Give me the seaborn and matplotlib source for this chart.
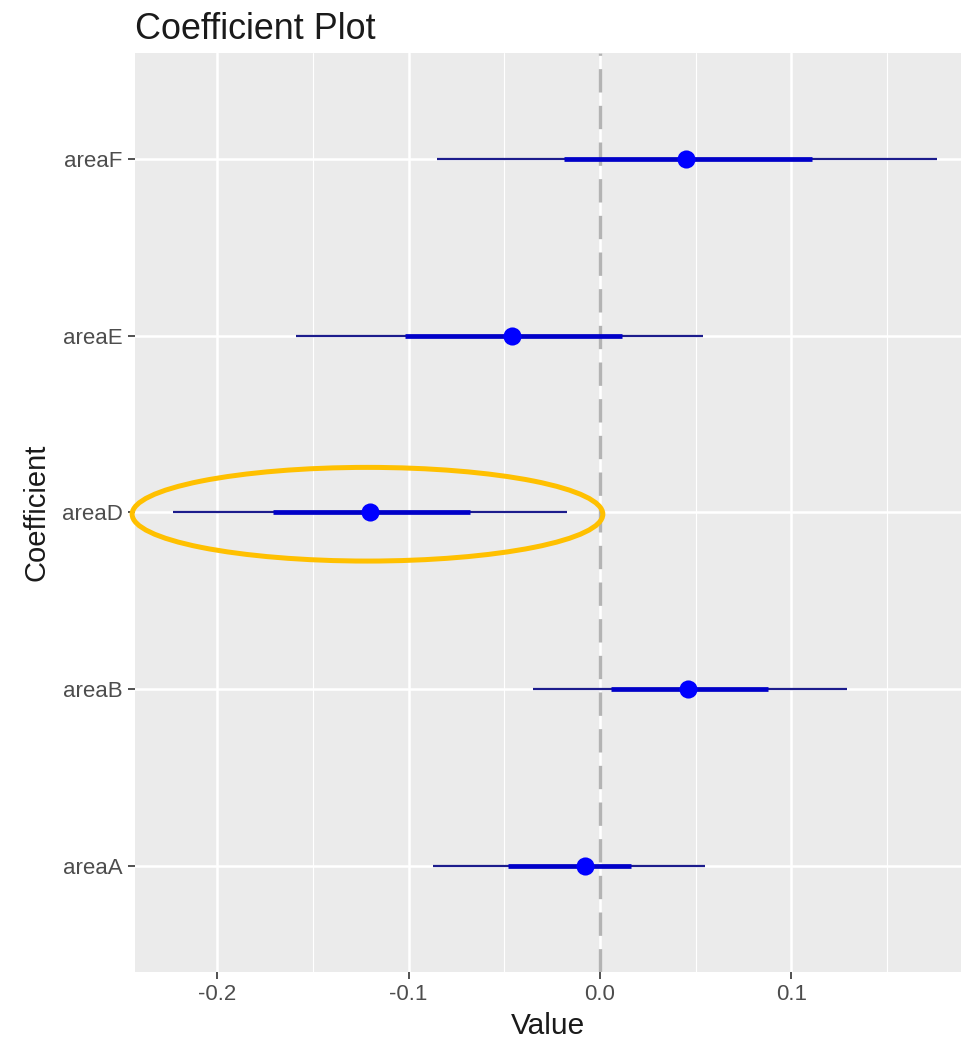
import matplotlib
matplotlib.use("Agg")
import matplotlib.pyplot as plt
from matplotlib.patches import Ellipse
from matplotlib.ticker import MultipleLocator
import pandas as pd
import seaborn as sns

# coefficient estimates (bottom to top as drawn)
coefs = ["areaA", "areaB", "areaD", "areaE", "areaF"]
estimate = [-0.008, 0.046, -0.120, -0.046, 0.045]
inner_low = [-0.048, 0.006, -0.171, -0.102, -0.019]
inner_high = [0.016, 0.088, -0.068, 0.0115, 0.111]
outer_low = [-0.087, -0.035, -0.223, -0.159, -0.085]
outer_high = [0.055, 0.129, -0.017, 0.054, 0.176]

highlight = "areaD"

df = pd.DataFrame({
    "Coefficient": coefs,
    "Value": estimate,
    "lo1": inner_low,
    "hi1": inner_high,
    "lo2": outer_low,
    "hi2": outer_high,
})

sns.set_theme(style="darkgrid", rc={
    "axes.facecolor": "#EBEBEB",
    "grid.color": "white",
    "axes.edgecolor": "#EBEBEB",
})
plt.rcParams["font.family"] = ["Liberation Sans", "DejaVu Sans"]

fig = plt.figure(figsize=(9.61, 10.54), dpi=100)
ax = fig.add_axes([0.1405, 0.0778, 0.8595, 0.872])

ypos = list(range(len(df)))

ax.axvline(0, color="#B3B3B3", lw=2.4, ls=(0, (7, 4)), zorder=2)
ax.hlines(ypos, df["lo2"], df["hi2"], color="#1C1C8C", lw=1.6, zorder=3)
ax.hlines(ypos, df["lo1"], df["hi1"], color="#0000C8", lw=3.4, zorder=3)
sns.scatterplot(x=df["Value"], y=ypos, ax=ax, color="#0000FF", s=170,
                edgecolor="#0000FF", linewidth=0, zorder=4, legend=False)

# highlight ring around one coefficient
row = df[df["Coefficient"] == highlight].iloc[0]
yi = coefs.index(highlight)
ring = Ellipse((row["Value"] - 0.0015, yi - 0.01), width=0.246, height=0.53,
               fill=False, edgecolor="#FFC000", lw=3.6, zorder=5, clip_on=False)
ax.add_patch(ring)

ax.set_xlim(-0.243, 0.1887)
ax.set_ylim(-0.6, len(df) - 1 + 0.6)
ax.set_yticks(ypos)
ax.set_yticklabels(df["Coefficient"])
ax.xaxis.set_minor_locator(MultipleLocator(0.05))
ax.set_xticks([-0.2, -0.1, 0.0, 0.1])
ax.set_xticklabels(["-0.2", "-0.1", "0.0", "0.1"])
ax.grid(which="major", color="white", lw=1.8)
ax.grid(which="minor", axis="x", color="white", lw=0.8)
ax.tick_params(which="major", length=5, width=1.2, color="#333333",
               labelsize=16, labelcolor="#4D4D4D", pad=4)
ax.tick_params(which="minor", length=0)
ax.tick_params(axis="x", bottom=True)
ax.tick_params(axis="y", left=True)

ax.set_xlabel("Value", fontsize=21.5, color="#1A1A1A", labelpad=5)
ax.set_ylabel("Coefficient", fontsize=21, color="#1A1A1A", labelpad=8)
ax.set_title("Coefficient Plot", fontsize=25.8, color="#1A1A1A", loc="left", pad=10)

for s in ax.spines.values():
    s.set_visible(False)

fig.savefig("out.png", dpi=100)
